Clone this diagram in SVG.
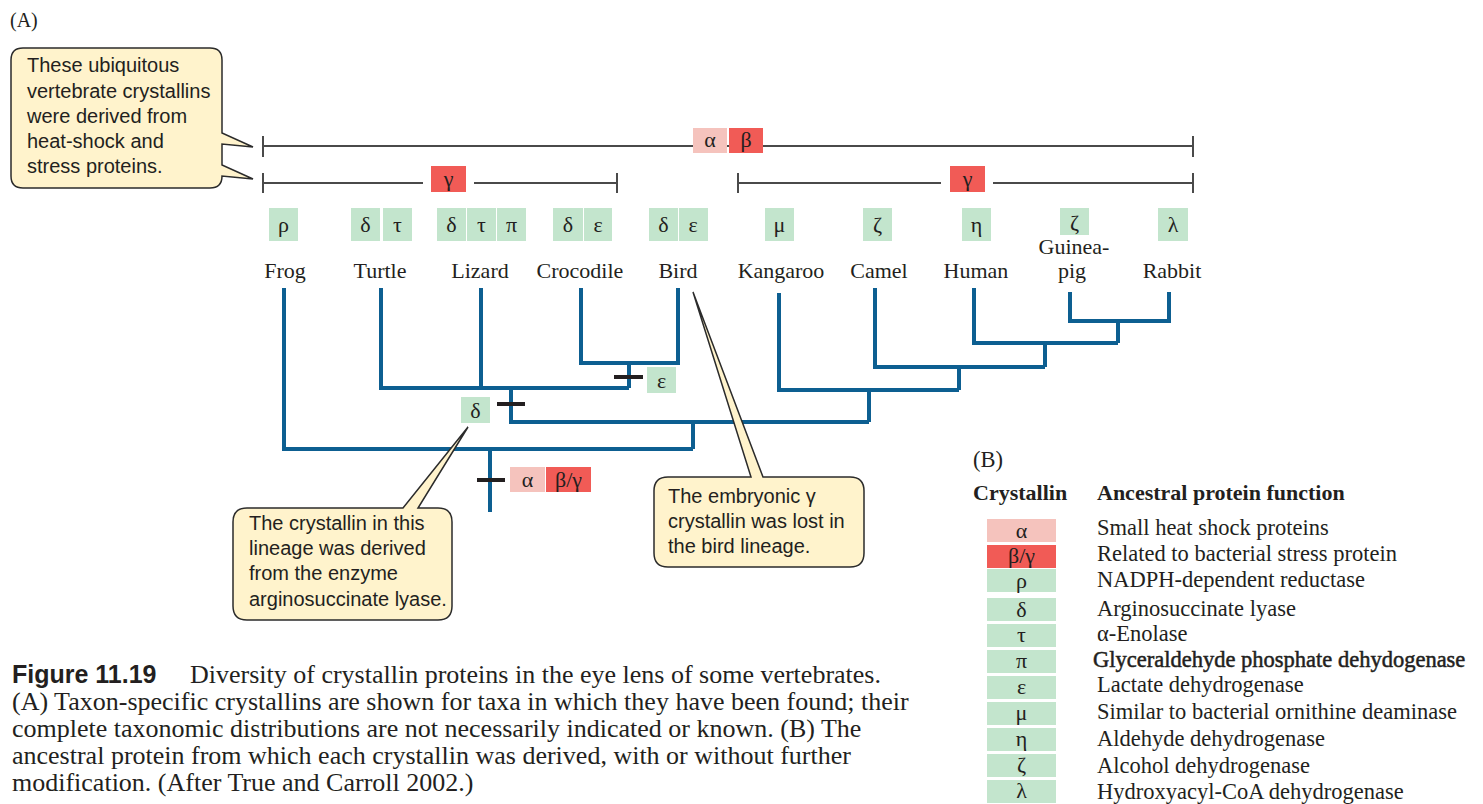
<svg xmlns="http://www.w3.org/2000/svg" width="1483" height="804" viewBox="0 0 1483 804">
<style>
.bg{fill:#ffffff}
.gr{fill:#c3e5cd}
.pk{fill:#f5c3bd}
.rd{fill:#f15b56}
.gk{font-family:"Liberation Serif","DejaVu Serif",serif;font-size:22px;fill:#231f20;text-anchor:middle}
.tx{font-family:"Liberation Serif","DejaVu Serif",serif;font-size:22px;fill:#231f20;text-anchor:middle}
.co{font-family:"Liberation Sans","DejaVu Sans",sans-serif;font-size:20px;fill:#231f20}
.cb{fill:#fff3cc;stroke:#2b2b2b;stroke-width:1.5}
.tree{fill:none;stroke:#0d5f91;stroke-width:4;stroke-linecap:butt;stroke-linejoin:miter}
.bar{fill:none;stroke:#4a4a4a;stroke-width:2}
.mut{stroke:#231f20;stroke-width:4}
.lt{font-family:"Liberation Serif","DejaVu Serif",serif;font-size:22.5px;fill:#231f20}
.lh{font-family:"Liberation Serif","DejaVu Serif",serif;font-size:22px;font-weight:bold;fill:#231f20}
.cap{font-family:"Liberation Serif","DejaVu Serif",serif;font-size:26px;fill:#231f20}
.fig{font-family:"Liberation Sans","DejaVu Sans",sans-serif;font-size:25px;font-weight:bold;fill:#231f20}
</style>
<rect class="bg" x="0" y="0" width="1483" height="804"/>
<text x="10" y="27" class="lt" style="font-size:20px">(A)</text>

<g id="connectors">
  <path class="tree" d="M284,288 V449 H693"/>
  <path class="tree" d="M381,288 V388 H629"/>
  <path class="tree" d="M481,288 V388"/>
  <path class="tree" d="M581,288 V363 H678 V288"/>
  <path class="tree" d="M629,363 V388"/>
  <path class="tree" d="M511,388 V422 H869"/>
  <path class="tree" d="M693,422 V449"/>
  <path class="tree" d="M490,449 V512"/>
  <path class="tree" d="M779,293 V390 H959"/>
  <path class="tree" d="M875,288 V367 H1045"/>
  <path class="tree" d="M974,288 V343 H1118"/>
  <path class="tree" d="M1070,292 V321 H1169 V292"/>
  <path class="tree" d="M1118,321 V343"/>
  <path class="tree" d="M1045,343 V367"/>
  <path class="tree" d="M959,367 V390"/>
  <path class="tree" d="M869,390 V422"/>
  <line class="mut" x1="477" y1="480" x2="505" y2="480"/>
  <line class="mut" x1="497" y1="404" x2="525" y2="404"/>
  <line class="mut" x1="614" y1="377" x2="643" y2="377"/>
</g>

<g id="bar-alpha-beta">
  <path class="bar" d="M263,146 H1193 M263,136 V157 M1193,136 V157"/>
  <rect class="pk" x="693" y="128" width="34" height="25"/>
  <rect class="rd" x="729" y="128" width="34" height="25"/>
  <text class="gk" x="710" y="147">α</text>
  <text class="gk" x="746" y="147">β</text>
</g>
<g id="bar-gamma-left">
  <path class="bar" d="M263,183 H423 M474,183 H617 M263,173 V193 M617,173 V193"/>
  <rect class="rd" x="431" y="166" width="35" height="26"/>
  <text class="gk" x="448.5" y="186">γ</text>
</g>
<g id="bar-gamma-right">
  <path class="bar" d="M738,183 H941 M993,183 H1193 M738,173 V193 M1193,173 V193"/>
  <rect class="rd" x="950" y="166" width="35" height="26"/>
  <text class="gk" x="967.5" y="186">γ</text>
</g>

<g id="frog">
  <rect class="gr" x="269" y="208" width="29" height="33"/>
  <text class="gk" x="283.5" y="232">ρ</text>
  <text class="tx" x="285" y="278">Frog</text>
</g>
<g id="turtle">
  <rect class="gr" x="351" y="208" width="29" height="33"/>
  <rect class="gr" x="383" y="208" width="29" height="33"/>
  <text class="gk" x="365.5" y="232">δ</text>
  <text class="gk" x="397.5" y="232">τ</text>
  <text class="tx" x="380" y="278">Turtle</text>
</g>
<g id="lizard">
  <rect class="gr" x="437" y="208" width="29" height="33"/>
  <rect class="gr" x="467" y="208" width="29" height="33"/>
  <rect class="gr" x="497" y="208" width="29" height="33"/>
  <text class="gk" x="451.5" y="232">δ</text>
  <text class="gk" x="481.5" y="232">τ</text>
  <text class="gk" x="511.5" y="232">π</text>
  <text class="tx" x="480" y="278">Lizard</text>
</g>
<g id="crocodile">
  <rect class="gr" x="553" y="208" width="30" height="33"/>
  <rect class="gr" x="584" y="208" width="28" height="33"/>
  <text class="gk" x="568" y="232">δ</text>
  <text class="gk" x="598" y="232">ε</text>
  <text class="tx" x="580" y="278">Crocodile</text>
</g>
<g id="bird">
  <rect class="gr" x="649" y="208" width="29" height="33"/>
  <rect class="gr" x="679" y="208" width="29" height="33"/>
  <text class="gk" x="663.5" y="232">δ</text>
  <text class="gk" x="693" y="232">ε</text>
  <text class="tx" x="678" y="278">Bird</text>
</g>
<g id="kangaroo">
  <rect class="gr" x="765" y="208" width="29" height="33"/>
  <text class="gk" x="779.5" y="232">μ</text>
  <text class="tx" x="781" y="278">Kangaroo</text>
</g>
<g id="camel">
  <rect class="gr" x="863" y="208" width="29" height="33"/>
  <text class="gk" x="877.5" y="232">ζ</text>
  <text class="tx" x="879" y="278">Camel</text>
</g>
<g id="human">
  <rect class="gr" x="962" y="208" width="29" height="33"/>
  <text class="gk" x="976.5" y="232">η</text>
  <text class="tx" x="976" y="278">Human</text>
</g>
<g id="guinea-pig">
  <rect class="gr" x="1060" y="208" width="29" height="27"/>
  <text class="gk" x="1074.5" y="230">ζ</text>
  <text class="tx" x="1074" y="254">Guinea-</text>
  <text class="tx" x="1072" y="278">pig</text>
</g>
<g id="rabbit">
  <rect class="gr" x="1158" y="208" width="30" height="33"/>
  <text class="gk" x="1173" y="232">λ</text>
  <text class="tx" x="1172" y="278">Rabbit</text>
</g>

<g id="delta-marker">
  <rect class="gr" x="461" y="397" width="29" height="26"/>
  <text class="gk" x="475.5" y="418">δ</text>
</g>
<g id="epsilon-marker">
  <rect class="gr" x="647" y="367" width="29" height="26"/>
  <text class="gk" x="661.5" y="388">ε</text>
</g>
<g id="root-marker">
  <rect class="pk" x="510" y="467" width="35" height="25"/>
  <rect class="rd" x="546" y="467" width="45" height="25"/>
  <text class="gk" x="527.5" y="487">α</text>
  <text class="gk" x="568.5" y="487">β/γ</text>
</g>

<g id="callout-ubiquitous">
  <path class="cb" d="M23,48 H210 Q222,48 222,60 V133 L253,147 L222,144 V165 L253,179 L222,176 Q222,188 210,188 H23 Q11,188 11,176 V60 Q11,48 23,48 Z"/>
  <text class="co" x="27" y="72">These ubiquitous</text>
  <text class="co" x="27" y="98">vertebrate crystallins</text>
  <text class="co" x="27" y="123">were derived from</text>
  <text class="co" x="27" y="148">heat-shock and</text>
  <text class="co" x="27" y="173">stress proteins.</text>
</g>
<g id="callout-bird">
  <path class="cb" d="M668,477 H751 L693,292 L763,477 H850 Q864,477 864,491 V553 Q864,567 850,567 H668 Q654,567 654,553 V491 Q654,477 668,477 Z"/>
  <text class="co" x="668" y="503">The embryonic γ</text>
  <text class="co" x="668" y="528">crystallin was lost in</text>
  <text class="co" x="668" y="553">the bird lineage.</text>
</g>
<g id="callout-lizard">
  <path class="cb" d="M247,508 H403 L468,427 L418,508 H438 Q452,508 452,522 V606 Q452,620 438,620 H247 Q233,620 233,606 V522 Q233,508 247,508 Z"/>
  <text class="co" x="249" y="530">The crystallin in this</text>
  <text class="co" x="249" y="555">lineage was derived</text>
  <text class="co" x="249" y="580">from the enzyme</text>
  <text class="co" x="249" y="606">arginosuccinate lyase.</text>
</g>

<g id="legend">
  <text class="lt" x="973" y="467">(B)</text>
  <text class="lh" x="973" y="500">Crystallin</text>
  <text class="lh" x="1097" y="500">Ancestral protein function</text>
  <rect class="pk" x="987" y="519" width="69" height="23"/>
  <rect class="rd" x="987" y="545" width="69" height="23"/>
  <rect class="gr" x="987" y="569" width="69" height="23"/>
  <rect class="gr" x="987" y="598" width="69" height="23"/>
  <rect class="gr" x="987" y="624" width="69" height="23"/>
  <rect class="gr" x="987" y="650" width="69" height="23"/>
  <rect class="gr" x="987" y="676" width="69" height="23"/>
  <rect class="gr" x="987" y="702" width="69" height="23"/>
  <rect class="gr" x="987" y="728" width="69" height="23"/>
  <rect class="gr" x="987" y="754" width="69" height="23"/>
  <rect class="gr" x="987" y="780" width="69" height="23"/>
  <text class="gk" x="1021.5" y="538">α</text>
  <text class="gk" x="1021.5" y="563">β/γ</text>
  <text class="gk" x="1021.5" y="588">ρ</text>
  <text class="gk" x="1021.5" y="617">δ</text>
  <text class="gk" x="1021.5" y="642">τ</text>
  <text class="gk" x="1021.5" y="668">π</text>
  <text class="gk" x="1021.5" y="694">ε</text>
  <text class="gk" x="1021.5" y="720">μ</text>
  <text class="gk" x="1021.5" y="746">η</text>
  <text class="gk" x="1021.5" y="772">ζ</text>
  <text class="gk" x="1021.5" y="798">λ</text>
  <text class="lt" x="1097" y="535">Small heat shock proteins</text>
  <text class="lt" x="1097" y="561">Related to bacterial stress protein</text>
  <text class="lt" x="1097" y="587">NADPH-dependent reductase</text>
  <text class="lt" x="1097" y="616">Arginosuccinate lyase</text>
  <text class="lt" x="1097" y="641">α-Enolase</text>
  <text class="lt" x="1093" y="667" style="stroke:#231f20;stroke-width:0.5">Glyceraldehyde phosphate dehydogenase</text>
  <text class="lt" x="1097" y="692">Lactate dehydrogenase</text>
  <text class="lt" x="1097" y="719">Similar to bacterial ornithine deaminase</text>
  <text class="lt" x="1097" y="746">Aldehyde dehydrogenase</text>
  <text class="lt" x="1097" y="773">Alcohol dehydrogenase</text>
  <text class="lt" x="1097" y="799">Hydroxyacyl-CoA dehydrogenase</text>
</g>

<g id="caption">
  <text class="fig" x="12" y="683">Figure 11.19</text>
  <text class="cap" x="190" y="683">Diversity of crystallin proteins in the eye lens of some vertebrates.</text>
  <text class="cap" x="12" y="710">(A) Taxon-specific crystallins are shown for taxa in which they have been found; their</text>
  <text class="cap" x="12" y="737">complete taxonomic distributions are not necessarily indicated or known. (B) The</text>
  <text class="cap" x="12" y="764">ancestral protein from which each crystallin was derived, with or without further</text>
  <text class="cap" x="12" y="791">modification. (After True and Carroll 2002.)</text>
</g>
</svg>
